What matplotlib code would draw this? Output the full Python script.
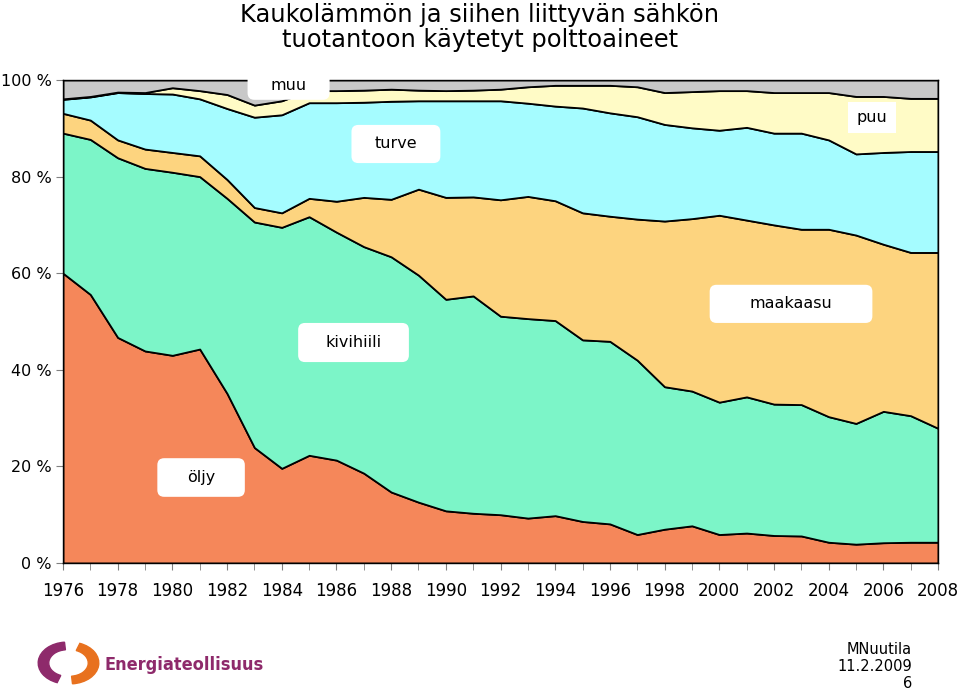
import numpy as np
import matplotlib
matplotlib.use('Agg')
import matplotlib.pyplot as plt
from matplotlib.patches import FancyBboxPatch, Wedge

plt.rcParams['font.family'] = ['DejaVu Sans']

years = list(range(1976, 2009))

# osuudet, % (luettu kuvasta)
oljy = [60.0, 55.6, 46.7, 43.9, 43.0, 44.3, 35.1, 23.9, 19.6, 22.3, 21.3,
        18.6, 14.7, 12.6, 10.8, 10.3, 10.0, 9.3, 9.8, 8.6, 8.1, 5.9, 7.0,
        7.7, 5.9, 6.2, 5.7, 5.6, 4.3, 3.9, 4.2, 4.3, 4.3]
kivihiili = [29.0, 32.1, 37.2, 37.8, 37.9, 35.7, 40.4, 46.7, 49.9, 49.4, 47.2,
             46.9, 48.7, 47.0, 43.8, 45.0, 41.1, 41.3, 40.4, 37.6, 37.8, 36.1,
             29.5, 27.9, 27.4, 28.2, 27.2, 27.2, 26.0, 25.0, 27.2, 26.2, 23.6]
maakaasu = [4.1, 4.0, 3.7, 4.0, 4.1, 4.3, 3.9, 3.0, 3.0, 3.8, 6.4, 10.2, 11.9,
            17.8, 21.1, 20.5, 24.1, 25.3, 24.8, 26.3, 25.9, 29.2, 34.3, 35.7,
            38.7, 36.6, 37.1, 36.3, 38.8, 39.0, 34.6, 33.8, 36.4]
turve = [2.9, 4.8, 9.8, 11.5, 12.1, 11.8, 14.7, 18.7, 20.3, 19.8, 20.4, 19.7,
         20.3, 18.3, 20.0, 19.9, 20.5, 19.3, 19.6, 21.7, 21.4, 21.2, 20.0,
         18.8, 17.6, 19.2, 19.0, 19.9, 18.5, 16.8, 19.0, 20.9, 20.9]
puu = [0.1, 0.1, 0.1, 0.2, 1.3, 1.7, 2.9, 2.5, 2.9, 2.5, 2.5, 2.5, 2.5, 2.2,
       2.1, 2.2, 2.4, 3.4, 4.3, 4.7, 5.7, 6.2, 6.6, 7.5, 8.2, 7.6, 8.4, 8.4,
       9.8, 11.9, 11.6, 11.0, 11.0]
muu = [3.9, 3.4, 2.5, 2.6, 1.6, 2.2, 3.0, 5.2, 4.3, 2.2, 2.2, 2.1, 1.9, 2.1,
       2.2, 2.1, 1.9, 1.4, 1.1, 1.1, 1.1, 1.4, 2.6, 2.4, 2.2, 2.2, 2.6, 2.6,
       2.6, 3.4, 3.4, 3.8, 3.8]

series = [oljy, kivihiili, maakaasu, turve, puu, muu]
colors = ['#F5875A', '#7CF5C8', '#FDD47F', '#A5FCFF', '#FFFBC6', '#C8C8C8']

fig = plt.figure(figsize=(9.6, 6.96), dpi=100)
ax = fig.add_axes([63/960, 133/696, 875/960, 483/696])

ax.stackplot(years, *series, colors=colors, edgecolor='black', linewidth=1.3)

ax.set_xlim(1976, 2008)
ax.set_ylim(0, 100)
ax.set_xticks(years, minor=True)
ax.set_xticks(years[::2])
ax.set_xticklabels([str(y) for y in years[::2]], fontsize=12)
ax.set_yticks([0, 20, 40, 60, 80, 100])
ax.set_yticklabels(['0 %', '20 %', '40 %', '60 %', '80 %', '100 %'], fontsize=11.5)
ax.tick_params(axis='both', which='both', direction='out', length=5, color='#808080')
ax.tick_params(axis='x', pad=9)
ax.tick_params(axis='y', pad=3)
for s in ax.spines.values():
    s.set_color('black')
    s.set_linewidth(1.0)

fig.text(0.5, 0.996, 'Kaukolämmön ja siihen liittyvän sähkön\ntuotantoon käytetyt polttoaineet',
         ha='center', va='top', fontsize=17.4, linespacing=1.05)

# nimilaatikot: (teksti, x0, x1, y0, y1, pyöreä)
labels = [('öljy', 1979.45, 1982.65, 13.7, 21.7, True),
          ('kivihiili', 1984.6, 1988.65, 41.6, 49.7, True),
          ('turve', 1986.55, 1989.8, 82.8, 90.7, True),
          ('maakaasu', 1999.65, 2005.6, 49.7, 57.6, True),
          ('puu', 2004.7, 2006.45, 89.0, 95.5, False),
          ('muu', 1982.75, 1985.75, 95.9, 101.7, True)]
for txt, x0, x1, y0, y1, rnd in labels:
    style = 'round,pad=0,rounding_size=0.25' if rnd else 'square,pad=0'
    box = FancyBboxPatch((x0, y0), x1 - x0, y1 - y0, boxstyle=style,
                         mutation_aspect=5.66, fc='white', ec='none',
                         zorder=5, clip_on=False)
    ax.add_patch(box)
    ax.text((x0 + x1) / 2, (y0 + y1) / 2, txt, ha='center', va='center',
            fontsize=11.5, zorder=6)

# logo
fig.patches.append(Wedge((67/960, 1 - 663/696), 0.03, 95, 250, width=0.011,
                         transform=fig.transFigure, color='#8E2A6B'))
fig.patches.append(Wedge((70/960, 1 - 663/696), 0.03, 275, 70, width=0.011,
                         transform=fig.transFigure, color='#E8711E'))
fig.text(105/960, 1 - 665/696, 'Energiateollisuus', ha='left', va='center',
         fontsize=13, color='#8E2A6B', fontweight='bold', fontstretch='condensed')

fig.text(912/960, 1 - 642/696, 'MNuutila\n11.2.2009\n6', ha='right', va='top',
         fontsize=10.5, linespacing=1.15)

fig.savefig('out.png', dpi=100)
